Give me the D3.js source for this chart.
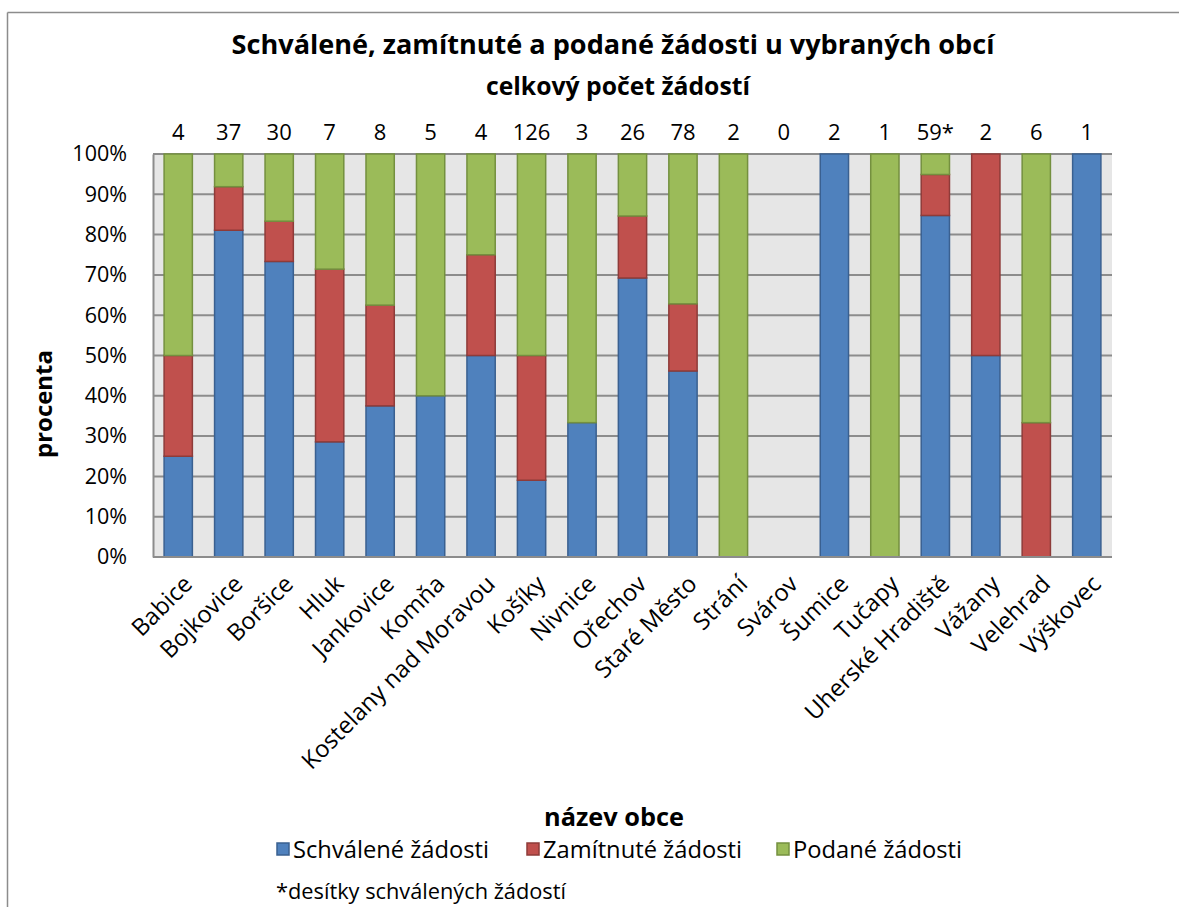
<!DOCTYPE html>
<html>
<head>
<meta charset="utf-8">
<script src="https://cdn.jsdelivr.net/npm/d3@7"></script>
<style>
  html, body { margin: 0; padding: 0; background: #fff; }
  svg { display: block; font-family: "Open Sans", sans-serif; }
</style>
</head>
<body>
<svg id="chart" width="1179" height="907"></svg>
<script>
// ---- data ----
const categories = ["Babice","Bojkovice","Boršice","Hluk","Jankovice","Komňa","Kostelany nad Moravou","Košíky","Nivnice","Ořechov","Staré Město","Strání","Svárov","Šumice","Tučapy","Uherské Hradiště","Vážany","Velehrad","Výškovec"];
const approved  = [1, 30, 22, 2, 3, 2, 2, 24, 1, 18, 36, 0, 0, 2, 0, 50, 1, 0, 1];
const rejected  = [1,  4,  3, 3, 2, 0, 1, 39, 0,  4, 13, 0, 0, 0, 0,  6, 1, 2, 0];
const submitted = [2,  3,  5, 2, 3, 3, 1, 63, 2,  4, 29, 2, 0, 0, 1,  3, 0, 4, 0];
const totalLabels = ["4","37","30","7","8","5","4","126","3","26","78","2","0","2","1","59*","2","6","1"];
const seriesNames = ["Schválené žádosti","Zamítnuté žádosti","Podané žádosti"];
const seriesKeys = ["approved","rejected","submitted"];
const yTicks = [0,0.1,0.2,0.3,0.4,0.5,0.6,0.7,0.8,0.9,1];

const fills = ["#4F81BD","#C0504D","#9BBB59"];
const strokes = ["#3A6090","#8E3B39","#74903F"];

const rows = categories.map((c,i) => ({cat:c, approved:approved[i], rejected:rejected[i], submitted:submitted[i]}));
const stack = d3.stack().keys(seriesKeys).offset(d3.stackOffsetExpand);
const stacked = stack(rows);

const svg = d3.select("#chart");
const W = 1179, H = 907;
const plot = {left:153, top:154, right:1112, bottom:557};

// font size that makes a text element reach a target width
function sizeFor(sel, target) {
  const fs = parseFloat(sel.attr("font-size"));
  const w = sel.node().getComputedTextLength();
  return w > 0 ? fs * target / w : fs;
}
function fitWidth(sel, target) {
  sel.attr("font-size", sizeFor(sel, target).toFixed(2));
  return sel;
}

// outer border (top + left visible)
svg.append("line").attr("x1",7.5).attr("x2",W).attr("y1",12.5).attr("y2",12.5).attr("stroke","#8c8c8c").attr("stroke-width",1.5);
svg.append("line").attr("x1",7.5).attr("x2",7.5).attr("y1",12.5).attr("y2",H).attr("stroke","#8c8c8c").attr("stroke-width",1.5);

const x = d3.scaleBand().domain(categories).range([plot.left, plot.right]).paddingInner(0.41).paddingOuter(0.205);
const y = d3.scaleLinear().domain([0,1]).range([plot.bottom, plot.top]);

// plot background
svg.append("rect").attr("x",plot.left).attr("y",plot.top).attr("width",plot.right-plot.left).attr("height",plot.bottom-plot.top).attr("fill","#E6E6E6");

// gridlines
svg.append("g").selectAll("line").data(yTicks).join("line")
  .attr("x1",plot.left).attr("x2",plot.right)
  .attr("y1",d=>y(d)).attr("y2",d=>y(d))
  .attr("stroke","#8C8C8C").attr("stroke-width",2);

// y axis
const yAxis = svg.append("g").attr("transform",`translate(${plot.left},0)`)
  .call(d3.axisLeft(y).tickValues(yTicks).tickFormat(d3.format(".0%")).tickSize(0).tickPadding(26));
yAxis.select(".domain").attr("stroke","#8C8C8C").attr("stroke-width",2);
yAxis.selectAll("text").attr("font-size",21.5).attr("fill","#000").attr("font-family","Open Sans");

// bars
svg.append("g").selectAll("g").data(stacked).join("g")
  .attr("fill",(d,i)=>fills[i]).attr("stroke",(d,i)=>strokes[i]).attr("stroke-width",1.5)
  .selectAll("rect").data(d=>d.map(v=>({v, cat:v.data.cat}))).join("rect")
  .attr("x",d=>x(d.cat)+0.75).attr("width",x.bandwidth()-1.5)
  .attr("y",d=>y(isNaN(d.v[1])?0:d.v[1]))
  .attr("height",d=>{const a=isNaN(d.v[0])?0:d.v[0], b=isNaN(d.v[1])?0:d.v[1]; return Math.max(0,y(a)-y(b));})
  .attr("display",d=>{const a=isNaN(d.v[0])?0:d.v[0], b=isNaN(d.v[1])?0:d.v[1]; return b-a>0?null:"none";});

// bottom axis line
svg.append("line").attr("x1",plot.left).attr("x2",plot.right).attr("y1",plot.bottom).attr("y2",plot.bottom).attr("stroke","#8C8C8C").attr("stroke-width",2);

// x labels
const xAxis = svg.append("g").attr("transform",`translate(0,${plot.bottom})`)
  .call(d3.axisBottom(x).tickSize(0).tickFormat(d=>d));
xAxis.select(".domain").remove();
const xTexts = xAxis.selectAll("text")
  .attr("font-size",20).attr("fill","#000").attr("font-family","Open Sans")
  .attr("text-anchor","end").attr("dy",null).attr("y",null)
  .attr("dominant-baseline","middle")
  .attr("transform","translate(11,24) rotate(-45)");
const longest = xTexts.filter(d => d === "Kostelany nad Moravou");
const xfs = sizeFor(longest, 262);
xTexts.attr("font-size", xfs.toFixed(2));

// totals above bars
svg.append("g").selectAll("text").data(categories).join("text")
  .attr("x",d=>x(d)+x.bandwidth()/2).attr("y",140)
  .attr("text-anchor","middle").attr("font-size",22).attr("fill","#000")
  .text((d,i)=>totalLabels[i]);

// titles
fitWidth(svg.append("text").attr("x",613).attr("y",54).attr("text-anchor","middle")
  .attr("font-size",24).attr("font-weight","bold").text("Schválené, zamítnuté a podané žádosti u vybraných obcí"), 763);
fitWidth(svg.append("text").attr("x",618).attr("y",95).attr("text-anchor","middle")
  .attr("font-size",21).attr("font-weight","bold").text("celkový počet žádostí"), 264);
fitWidth(svg.append("text").attr("transform","translate(52,404) rotate(-90)").attr("text-anchor","middle")
  .attr("font-size",21).attr("font-weight","bold").text("procenta"), 108);
fitWidth(svg.append("text").attr("x",614).attr("y",826).attr("text-anchor","middle")
  .attr("font-size",21).attr("font-weight","bold").text("název obce"), 140);

// legend
const legendX = [277, 527, 777];
const lg = svg.append("g").selectAll("g").data(seriesNames).join("g")
  .attr("transform",(d,i)=>`translate(${legendX[i]},849)`);
lg.append("rect").attr("x",0).attr("y",-6).attr("width",12).attr("height",12)
  .attr("fill",(d,i)=>fills[i]).attr("stroke",(d,i)=>strokes[i]).attr("stroke-width",1.5);
const lgText = lg.append("text").attr("x",16).attr("y",0).attr("dominant-baseline","central")
  .attr("font-size",20).text(d=>d);
const lfs = sizeFor(lgText.filter((d,i)=>i===0), 196);
lgText.attr("font-size", lfs.toFixed(2));

// footnote
fitWidth(svg.append("text").attr("x",276).attr("y",890).attr("dominant-baseline","central")
  .attr("font-size",20).text("*desítky schválených žádostí"), 290);
</script>
</body>
</html>
